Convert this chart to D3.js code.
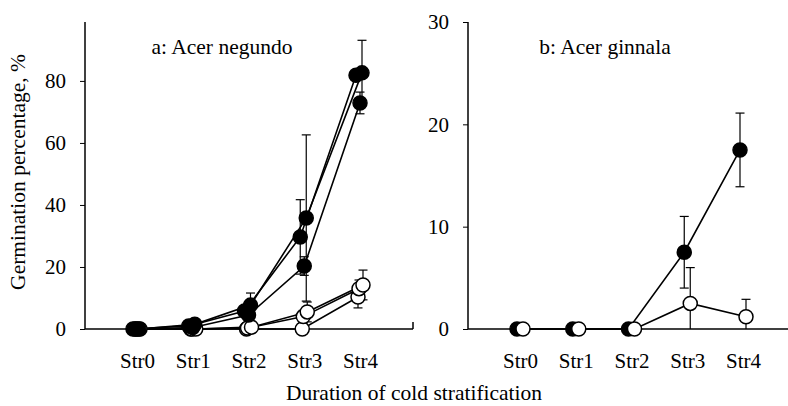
<!DOCTYPE html>
<html><head><meta charset="utf-8">
<script src="https://cdn.jsdelivr.net/npm/d3@7"></script>
<style>
html,body{margin:0;padding:0;background:#fff;}
svg{display:block;}
text{font-family:"Liberation Serif","Times New Roman",serif;fill:#000;}
</style></head>
<body>
<svg id="chart" width="788" height="406"></svg>
<script>
const categories = ["Str0", "Str1", "Str2", "Str3", "Str4"];

// Panel a: Acer negundo (three filled and three open series)
const negFilled1 = [0, 1.5, 7.7, 35.8, 82.6];
const negFilled1Err = [0, 0.5, 3.9, 26.8, 10.5];
const negFilled2 = [0, 1.0, 5.8, 29.7, 81.8];
const negFilled2Err = [0, 0.4, 1.5, 12.0, 0.5];
const negFilled3 = [0, 0.5, 4.5, 20.3, 72.9];
const negFilled3Err = [0, 0.3, 1.2, 3.0, 3.5];
const negOpen1 = [0, 0, 0.6, 5.5, 14.2];
const negOpen1Err = [0, 0, 0.4, 3.2, 4.8];
const negOpen2 = [0, 0, 0.3, 4.0, 13.0];
const negOpen2Err = [0, 0, 0.3, 2.0, 2.8];
const negOpen3 = [0, 0, 0, 0, 10.3];
const negOpen3Err = [0, 0, 0, 0, 3.5];

// Panel b: Acer ginnala
const ginFilled = [0, 0, 0, 7.5, 17.5];
const ginFilledErr = [0, 0, 0, 3.5, 3.6];
const ginOpen = [0, 0, 0, 2.5, 1.2];
const ginOpenErr = [0, 0, 0, 3.5, 1.7];

const yTicksA = [0, 20, 40, 60, 80];
const yTicksB = [0, 10, 20, 30];

const titleA = "a: Acer negundo";
const titleB = "b: Acer ginnala";
const yTitle = "Germination percentage, %";
const xTitle = "Duration of cold stratification";

const svg = d3.select("#chart");
const FS = 21;
const FT = 21.5;

function panel(cfg) {
  const g = svg.append("g");
  const x = d3.scalePoint().domain(categories).range(cfg.xRange);
  const y = d3.scaleLinear().domain(cfg.yDomain).range([329, 22]);

  // y axis
  const yAxis = d3.axisLeft(y).tickValues(cfg.yTicks).tickSize(5).tickPadding(14).tickSizeOuter(0);
  const ya = g.append("g").attr("transform", `translate(${cfg.axisX},0)`).call(yAxis);
  ya.select(".domain").attr("stroke", "#000").attr("stroke-width", 1.5)
    .attr("d", `M0,${y(cfg.yDomain[1])}V${y(0)}`);
  ya.selectAll(".tick line").attr("stroke", "#000").attr("stroke-width", 1);
  ya.selectAll(".tick text").style("font-size", FS + "px").style("font-family", "Liberation Serif, serif");

  // x axis
  g.append("line").attr("x1", cfg.axisX).attr("x2", cfg.axisEnd)
    .attr("y1", y(0)).attr("y2", y(0)).attr("stroke", "#000").attr("stroke-width", 1.5);
  if (cfg.endTick) {
    g.append("line").attr("x1", cfg.axisEnd).attr("x2", cfg.axisEnd)
      .attr("y1", y(0)).attr("y2", y(0) - 7).attr("stroke", "#000").attr("stroke-width", 1.5);
  }
  const xAxis = d3.axisBottom(x).tickSize(0).tickPadding(24);
  const xa = g.append("g").attr("transform", `translate(0,${y(0)})`).call(xAxis);
  xa.select(".domain").remove();
  xa.selectAll(".tick text").style("font-size", FS + "px").style("font-family", "Liberation Serif, serif");

  // title
  g.append("text").attr("x", cfg.titleX).attr("y", 54).attr("text-anchor", "middle")
    .style("font-size", FT + "px").text(cfg.title);

  const line = d3.line().x(d => d.x).y(d => d.y);
  const pts = s => s.values.map((v, i) => ({x: x(categories[i]) + s.dx, y: y(v), v: v, e: s.err[i]}));

  // lines
  cfg.series.forEach(s => {
    g.append("path").attr("d", line(pts(s))).attr("fill", "none")
      .attr("stroke", "#000").attr("stroke-width", 1.6);
  });
  // error bars
  cfg.series.forEach(s => {
    pts(s).forEach(p => {
      if (!p.e) return;
      const top = y(p.v + p.e);
      const lowV = p.v - p.e;
      const bot = y(Math.max(0, lowV));
      g.append("line").attr("x1", p.x).attr("x2", p.x).attr("y1", top).attr("y2", bot)
        .attr("stroke", "#000").attr("stroke-width", 1.2);
      g.append("line").attr("x1", p.x - 4.5).attr("x2", p.x + 4.5).attr("y1", top).attr("y2", top)
        .attr("stroke", "#000").attr("stroke-width", 1.2);
      if (lowV > 0) {
        g.append("line").attr("x1", p.x - 4.5).attr("x2", p.x + 4.5).attr("y1", bot).attr("y2", bot)
          .attr("stroke", "#000").attr("stroke-width", 1.2);
      }
    });
  });
  // markers
  cfg.series.forEach(s => {
    g.selectAll(null).data(pts(s)).enter().append("circle")
      .attr("cx", d => d.x).attr("cy", d => d.y).attr("r", 7)
      .attr("fill", s.filled ? "#000" : "#fff").attr("stroke", "#000").attr("stroke-width", 1.5);
  });
}

panel({
  xRange: [137, 360], yDomain: [0, 99], yTicks: yTicksA, axisX: 85, axisEnd: 413, endTick: true,
  title: titleA, titleX: 222,
  series: [
    {values: negOpen3, err: negOpen3Err, filled: false, dx: -2},
    {values: negOpen2, err: negOpen2Err, filled: false, dx: -1},
    {values: negOpen1, err: negOpen1Err, filled: false, dx: 3},
    {values: negFilled3, err: negFilled3Err, filled: true, dx: 0},
    {values: negFilled2, err: negFilled2Err, filled: true, dx: -4},
    {values: negFilled1, err: negFilled1Err, filled: true, dx: 2}
  ]
});

panel({
  xRange: [520, 743], yDomain: [0, 30], yTicks: yTicksB, axisX: 468, axisEnd: 788, endTick: false,
  title: titleB, titleX: 605,
  series: [
    {values: ginFilled, err: ginFilledErr, filled: true, dx: -3},
    {values: ginOpen, err: ginOpenErr, filled: false, dx: 3}
  ]
});

// axis titles
svg.append("text").attr("transform", "translate(25,172) rotate(-90)").attr("text-anchor", "middle")
  .style("font-size", FT + "px").text(yTitle);
svg.append("text").attr("x", 414).attr("y", 400).attr("text-anchor", "middle")
  .style("font-size", FT + "px").text(xTitle);
</script>
</body></html>
